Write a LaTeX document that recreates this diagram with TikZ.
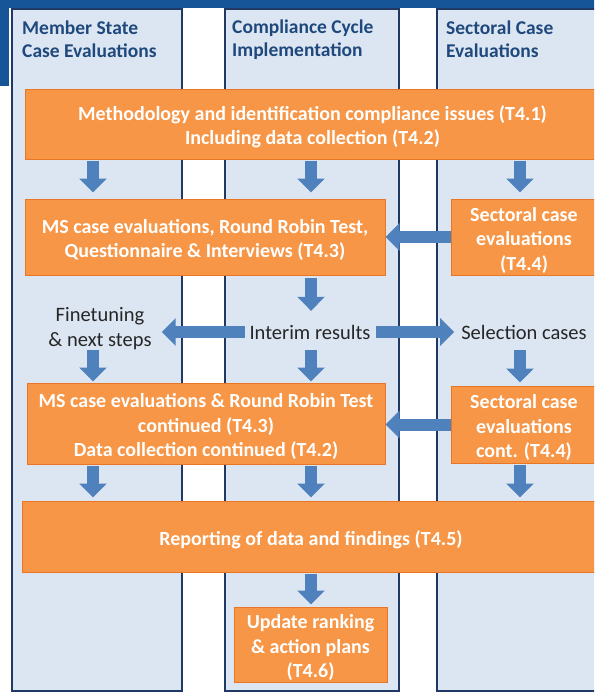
\documentclass[tikz,border=0pt]{standalone}
\usepackage{fontspec}
\setmainfont{Carlito}
\usetikzlibrary{arrows.meta}
\definecolor{band}{RGB}{22,86,152}
\definecolor{colfill}{RGB}{220,230,242}
\definecolor{colline}{RGB}{31,56,100}
\definecolor{headtext}{RGB}{31,73,125}
\definecolor{orfill}{RGB}{247,150,70}
\definecolor{orline}{RGB}{232,118,36}
\definecolor{arrblue}{RGB}{79,129,189}
\definecolor{labtext}{RGB}{38,38,38}
\newcommand{\tup}{\rule{0pt}{20.5pt}}
\tikzset{
  lane/.style={draw=colline, line width=2pt, fill=colfill},
  headtxt/.style={anchor=west, align=left, text=headtext, inner sep=0pt,
    font=\fontsize{19.5}{23}\selectfont\bfseries},
  obox/.style={draw=orline, line width=1pt, fill=orfill, text=white, align=center,
    inner sep=0pt, font=\fontsize{20}{24.5}\selectfont\bfseries},
  labl/.style={align=center, text=labtext, inner sep=0pt,
    font=\fontsize{20.5}{25}\selectfont},
  bigarrow/.style={draw=arrblue, line width=12pt,
    -{Triangle[width=27pt,length=14pt,fill=arrblue]}}
}
\begin{document}
\begin{tikzpicture}[x=1pt,y=-1pt]
\clip (0,0) rectangle (594,693);
\fill[white] (0,0) rectangle (594,693);
% top band
\fill[band] (0,0) rectangle (600,8);
\fill[band] (0,0) rectangle (9,86);
% lanes
\draw[lane] (12,9) rectangle (182,691);
\draw[lane] (225,9) rectangle (399,691);
\draw[lane] (437,9) rectangle (620,691);
% headers
\node[headtxt] (h1) at (22,39.5) {Member State\\Case Evaluations};
\node[headtxt] (h2) at (232,39.5) {Compliance Cycle\\Implementation};
\node[headtxt] (h3) at (446,39.5) {Sectoral Case\\Evaluations};
% column axes
\coordinate (c1) at (93,0);
\coordinate (c2) at (311,0);
\coordinate (c3) at (520,0);
% boxes
\node[obox, minimum width=575pt, minimum height=70pt] (b1) at (312.5,124)
  {\tup Methodology and identification compliance issues (T4.1)\\Including data collection (T4.2)};
\node[obox, minimum width=360pt, minimum height=76pt] (b2) at (205,237)
  {\tup MS case evaluations, Round Robin Test,\\Questionnaire \& Interviews (T4.3)};
\node[obox, minimum width=146pt, minimum height=76pt] (b3) at (524,237)
  {\tup Sectoral case\\evaluations\\(T4.4)};
\node[labl, minimum height=46pt] (fine) at (100,329) {Finetuning\\\& next steps};
\node[labl, minimum height=36pt] (interim) at (310,332) {Interim results};
\node[labl, minimum height=36pt] (sel) at (524,332) {Selection cases};
\node[obox, minimum width=358pt, minimum height=81pt] (b4) at (206,423.5)
  {\tup MS case evaluations \& Round Robin Test\\continued (T4.3)\\Data collection continued (T4.2)};
\node[obox, minimum width=146pt, minimum height=77pt] (b5) at (524,424.5)
  {\tup Sectoral case\\evaluations\\cont. (T4.4)};
\node[obox, minimum width=578pt, minimum height=71pt] (b6) at (311,536.5)
  {\tup Reporting of data and findings (T4.5)};
\node[obox, minimum width=153pt, minimum height=75pt] (b7) at (310.5,644.5)
  {\tup Update ranking\\\& action plans\\(T4.6)};
% vertical arrows
\draw[bigarrow, shorten <=1pt, shorten >=6pt] (b1.south -| c1) -- (b2.north -| c1);
\draw[bigarrow, shorten <=1pt, shorten >=6pt] (b1.south -| c2) -- (b2.north -| c2);
\draw[bigarrow, shorten <=1pt, shorten >=6pt] (b1.south -| c3) -- (b3.north -| c3);
\draw[bigarrow, shorten <=2pt, shorten >=3pt] (b2.south -| c2) -- (interim.north -| c2);
\draw[bigarrow, shorten <=-2pt, shorten >=1pt] (fine.south -| c1) -- (b4.north -| c1);
\draw[bigarrow, shorten >=1pt] (interim.south -| c2) -- (b4.north -| c2);
\draw[bigarrow, shorten >=3pt] (sel.south -| c3) -- (b5.north -| c3);
\draw[bigarrow, shorten <=1pt, shorten >=3pt] (b4.south -| c1) -- (b6.north -| c1);
\draw[bigarrow, shorten <=1pt, shorten >=3pt] (b4.south -| c2) -- (b6.north -| c2);
\draw[bigarrow, shorten <=1pt, shorten >=3pt] (b5.south -| c3) -- (b6.north -| c3);
\draw[bigarrow, shorten <=1pt, shorten >=2pt] (b6.south -| c2) -- (b7.north -| c2);
% horizontal arrows
\draw[bigarrow] (b3.west) -- (b2.east);
\draw[bigarrow] (b5.west) -- (b4.east |- b5.west);
\draw[bigarrow, shorten <=4pt, shorten >=10pt] (interim.west) -- (fine.east |- interim.west);
\draw[bigarrow, shorten <=5pt, shorten >=7pt] (interim.east) -- (sel.west);
\end{tikzpicture}
\end{document}
